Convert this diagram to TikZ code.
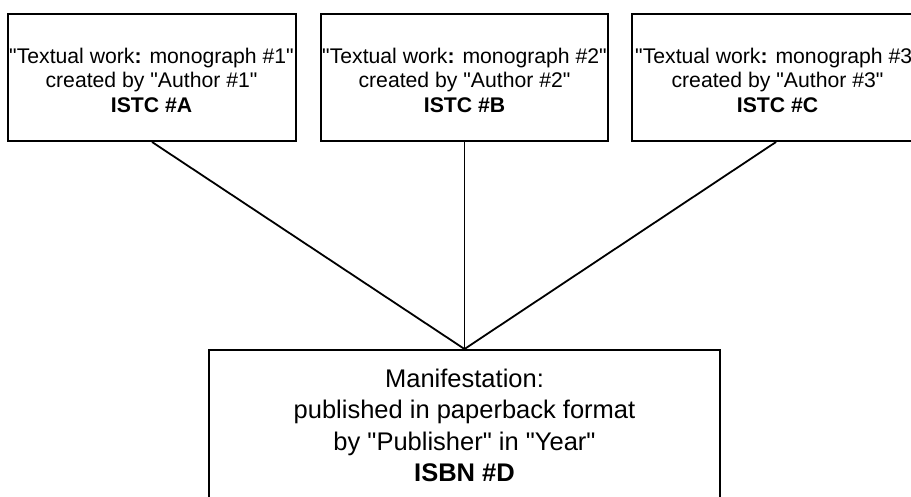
\documentclass[tikz,border=0pt]{standalone}
\usepackage{fontspec}
\setmainfont{Liberation Sans}[Ligatures=TeXOff]
\begin{document}
\begin{tikzpicture}[x=1pt,y=-1pt,
  box/.style={draw, line width=2pt, inner sep=0pt, minimum height=127pt},
  toptext/.style={inner sep=0pt, align=center, anchor=north, font=\fontsize{21.2}{24.6}\selectfont},
  bottext/.style={inner sep=0pt, align=center, anchor=north, font=\fontsize{25.5}{31.5}\selectfont},
  link/.style={line width=1.8pt}]
\useasboundingbox (0,0) rectangle (911,496);
\clip (0,0) rectangle (911,496);
\node[box, minimum width=288pt] (A) at (152,77.5) {};
\node[box, minimum width=287pt] (B) at (464.5,77.5) {};
\node[box, minimum width=288pt] (C) at (776,77.5) {};
\node[box, minimum width=511pt, minimum height=170pt, anchor=north] (D) at (464.5,349) {};
\node[toptext] (At) at (151.5,47.7) {"Textual work\textbf{:} monograph \#1"\\created by "Author \#1"\\\textbf{ISTC \#A}};
\node[toptext] (Bt) at (464.5,47.7) {"Textual work\textbf{:} monograph \#2"\\created by "Author \#2"\\\textbf{ISTC \#B}};
\node[toptext] (Ct) at (777.5,47.7) {"Textual work\textbf{:} monograph \#3"\\created by "Author \#3"\\\textbf{ISTC \#C}};
\node[bottext] (Dt) at (464.5,368.4) {Manifestation:\\published in paperback format\\by "Publisher" in "Year"\\\textbf{ISBN \#D}};
\draw[link] (A.south) -- (D.north);
\draw[link] (B.south) -- (D.north);
\draw[link] (C.south) -- (D.north);
\end{tikzpicture}
\end{document}
